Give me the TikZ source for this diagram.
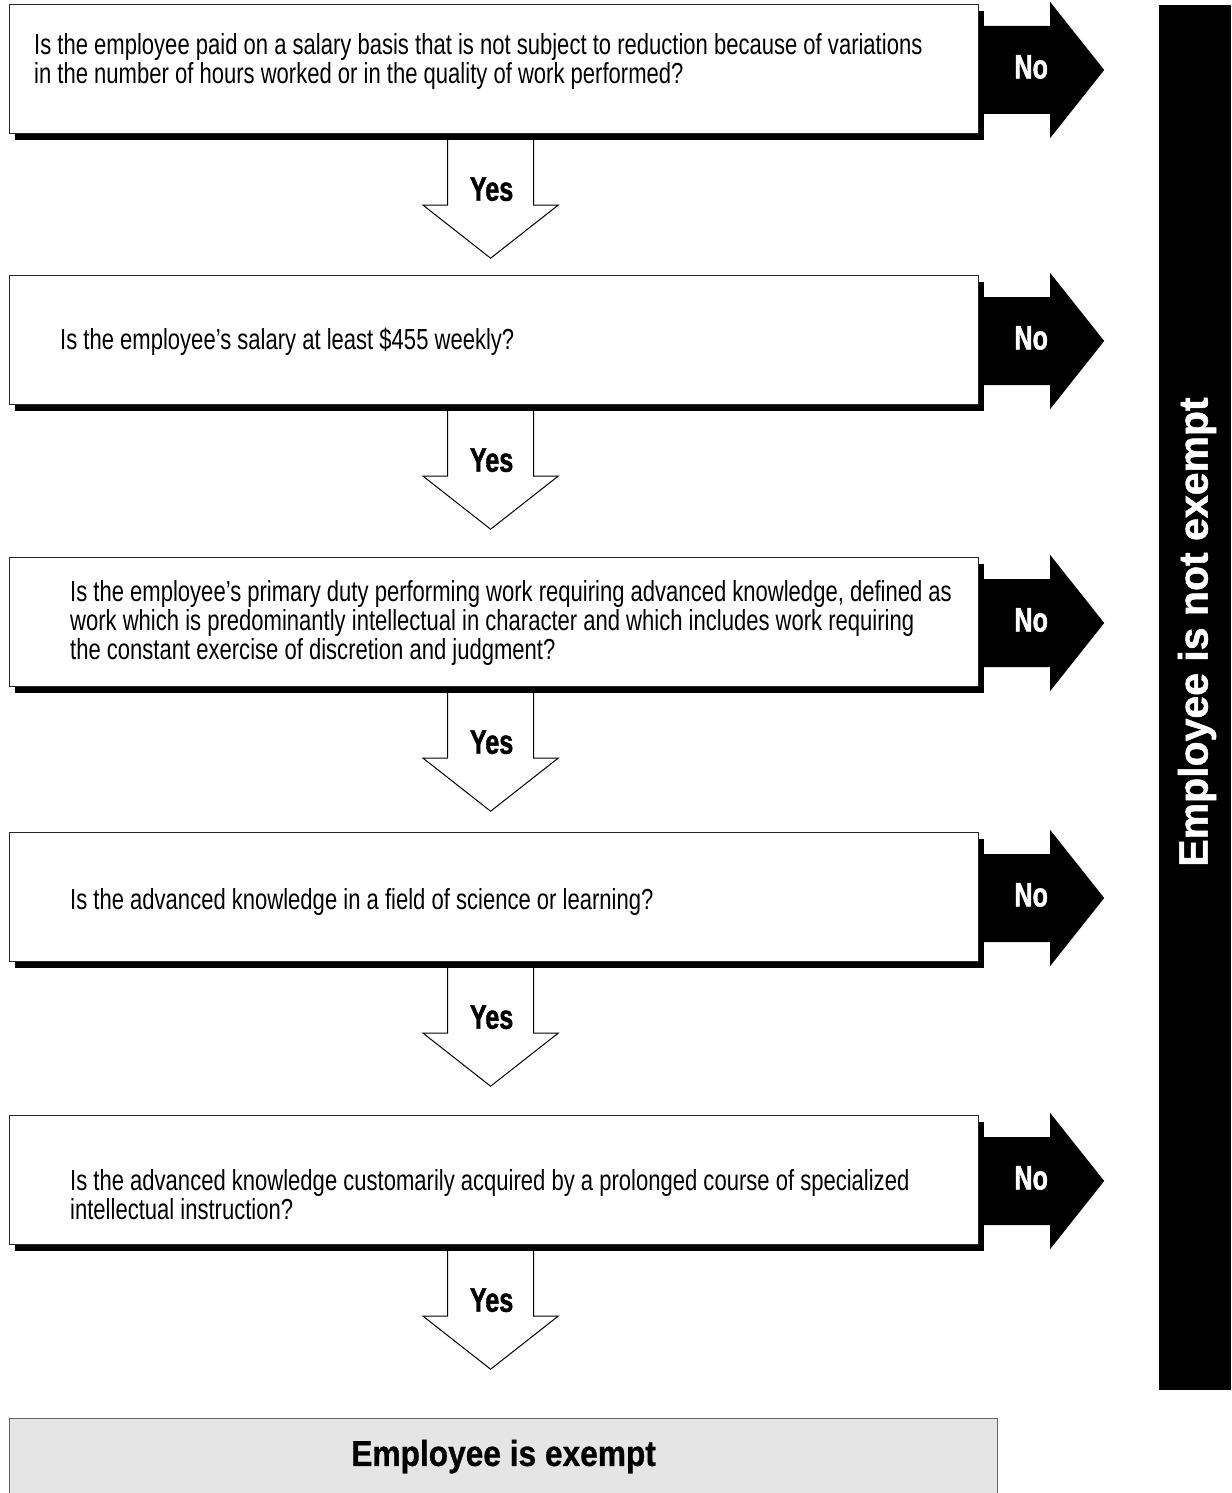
\documentclass[tikz,border=0pt]{standalone}
\usepackage{fontspec}
\setmainfont{Liberation Sans}
\newfontfamily\qfont{Liberation Sans}[FakeStretch=0.76]
\newfontfamily\tagfont{Liberation Sans}[FakeStretch=0.74,FakeBold=1.2]
\newfontfamily\exfont{Liberation Sans}[FakeStretch=0.88,FakeBold=0.8]
\newfontfamily\outfont{Liberation Sans}[FakeBold=1.2]
\usetikzlibrary{shadows,calc}

\tikzset{
  qbox/.style={draw=black!85, line width=1.2pt, fill=white,
    minimum width=969pt, minimum height=129pt, anchor=north west, inner sep=0pt,
    drop shadow={shadow xshift=5pt, shadow yshift=-6pt, opacity=1, fill=black}},
  qtext/.style={anchor=base west, align=left, inner sep=0pt,
    font=\qfont\fontsize{29}{29}\selectfont},
  yesshape/.style={draw=black, line width=1pt},
  noshape/.style={fill=black},
  yeslabel/.style={font=\tagfont\bfseries\fontsize{34}{34}\selectfont, inner sep=0pt},
  nolabel/.style={yeslabel, text=white},
}

% block arrow "Yes" below a question box
\newcommand\yesarrowfrom[2]{%
  \draw[yesshape] ($(#1.south)+(-46.5,6)$) -- ++(0,65) -- ++(-24.5,0)
    -- ++(67.5,53) -- ++(67.5,-53) -- ++(-24.5,0) -- ++(0,-65);
  \node[yeslabel] (#2) at ($(#1.south)+(-2.5,55)$) {Yes};
}
% solid block arrow "No" to the right of a question box
\newcommand\noarrowfrom[2]{%
  \fill[noshape] ($(#1.north east)+(4,22)$) -- ++(67,0) -- ++(0,-24)
    -- ++(54,68) -- ++(-54,68) -- ++(0,-24) -- ++(-67,0) -- cycle;
  \node[nolabel] (#2) at ($(#1.north east)+(52,63)$) {No};
}

\begin{document}
\begin{tikzpicture}[x=1pt,y=-1pt]
\useasboundingbox[fill=white] (0,0) rectangle (1231,1493);

% outcome bar on the right
\node[fill=black, anchor=north west, minimum width=72pt, minimum height=1385pt,
      inner sep=0pt] (bar) at (1159,5) {};
\node[rotate=90, text=white, inner sep=0pt,
      font=\outfont\bfseries\fontsize{41}{41}\selectfont] (notex) at (1197,632)
      {Employee is not exempt};

% question boxes
\node[qbox] (q1) at (9,4) {};
\node[qbox] (q2) at (9,275) {};
\node[qbox] (q3) at (9,557) {};
\node[qbox] (q4) at (9,832) {};
\node[qbox] (q5) at (9,1115) {};

% question texts, placed by the baseline of their last line
\node[qtext] (t1) at (34,84) {Is the employee paid on a salary basis that is not subject to reduction because of variations\\in the number of hours worked or in the quality of work performed?};
\node[qtext] (t2) at (60,349) {Is the employee’s salary at least \$455 weekly?};
\node[qtext] (t3) at (70,659) {Is the employee’s primary duty performing work requiring advanced knowledge, defined as\\work which is predominantly intellectual in character and which includes work requiring\\the constant exercise of discretion and judgment?};
\node[qtext] (t4) at (70,909) {Is the advanced knowledge in a field of science or learning?};
\node[qtext] (t5) at (70,1219) {Is the advanced knowledge customarily acquired by a prolonged course of specialized\\intellectual instruction?};

% answers
\yesarrowfrom{q1}{y1}
\yesarrowfrom{q2}{y2}
\yesarrowfrom{q3}{y3}
\yesarrowfrom{q4}{y4}
\yesarrowfrom{q5}{y5}
\noarrowfrom{q1}{n1}
\noarrowfrom{q2}{n2}
\noarrowfrom{q3}{n3}
\noarrowfrom{q4}{n4}
\noarrowfrom{q5}{n5}

% final outcome
\node[draw=black!60, fill=black!10, line width=1.2pt, anchor=north west,
      minimum width=988pt, minimum height=76pt, inner sep=0pt,
      font=\exfont\bfseries\fontsize{36}{36}\selectfont] (ex) at (9,1418)
      {Employee is exempt};
\end{tikzpicture}
\end{document}
